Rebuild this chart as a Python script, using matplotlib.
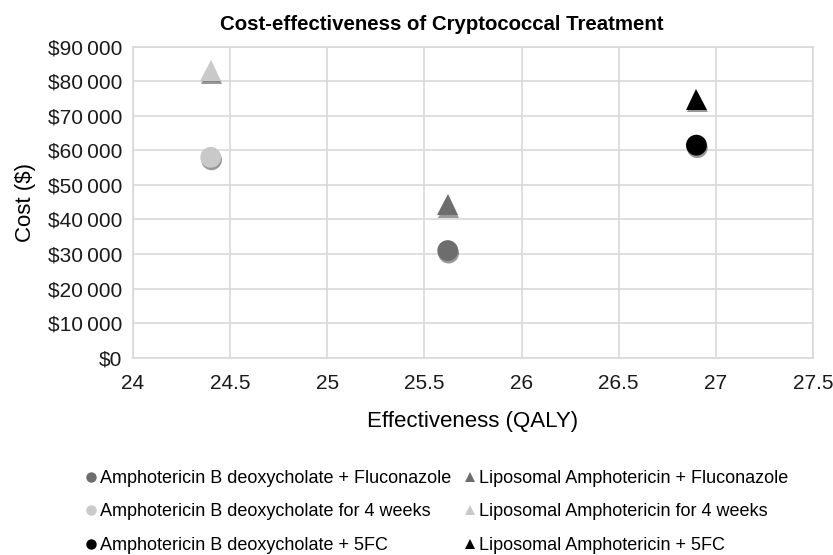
import matplotlib
matplotlib.use("Agg")
import matplotlib.pyplot as plt
import matplotlib.patheffects as pe
from matplotlib.ticker import FuncFormatter

plt.rcParams['font.family'] = ['Liberation Sans', 'DejaVu Sans']

# treatments
labels = [
    "Amphotericin B deoxycholate + Fluconazole",
    "Amphotericin B deoxycholate for 4 weeks",
    "Amphotericin B deoxycholate + 5FC",
    "Liposomal Amphotericin + Fluconazole",
    "Liposomal Amphotericin for 4 weeks",
    "Liposomal Amphotericin + 5FC",
]
qaly = [25.62, 24.40, 26.90, 25.62, 24.40, 26.90]
cost = [31000, 58000, 61500, 44300, 83000, 74800]
markers = ["o", "o", "o", "^", "^", "^"]
colors = ["#6d6d6d", "#c9c9c9", "#000000", "#6d6d6d", "#c9c9c9", "#000000"]

xticks = [24, 24.5, 25, 25.5, 26, 26.5, 27, 27.5]
yticks = list(range(0, 90001, 10000))

fig = plt.figure(figsize=(8.33, 5.55), dpi=100)
ax = fig.add_axes([133 / 833, 1 - 357.7 / 555, 680 / 833, 311 / 555])

grid_c = "#d9d9d9"
shadow = [pe.SimplePatchShadow(offset=(0.6, -1.8), shadow_rgbFace="#000000", alpha=0.4), pe.Normal()]

for x, y, m, c, lab in zip(qaly, cost, markers, colors, labels):
    ax.plot([x], [y], linestyle="none", marker=m, markersize=15, color=c,
            markeredgewidth=0, path_effects=shadow, zorder=3)
    # legend proxy
    ax.plot([], [], linestyle="none", marker=m, markersize=7.5, color=c,
            markeredgewidth=0, label=lab)

ax.set_xlim(24, 27.5)
ax.set_ylim(0, 90000)
ax.set_xticks(xticks)
ax.set_yticks(yticks)
ax.xaxis.set_major_formatter(FuncFormatter(lambda v, p: f"{v:g}"))
ax.yaxis.set_major_formatter(
    FuncFormatter(lambda v, p: "$" + f"{int(v):,}".replace(",", "\u2009")))
ax.grid(True, color=grid_c, linewidth=1.2)
ax.set_axisbelow(True)
for s in ax.spines.values():
    s.set_color(grid_c)
    s.set_linewidth(1.2)
ax.tick_params(length=0, labelsize=15, colors="#1a1a1a")
ax.tick_params(axis="x", pad=12)
ax.tick_params(axis="y", pad=8)

ax.set_xlabel("Effectiveness (QALY)", fontsize=16, labelpad=13)
ax.set_ylabel("Cost ($)", fontsize=16, labelpad=8)

fig.text(442 / 833, 1 - 24 / 555, "Cost-effectiveness of Cryptococcal Treatment",
         ha="center", va="center", fontsize=14.7, fontweight="bold")

fig.legend(loc="center left", bbox_to_anchor=(86 / 833, 1 - 512 / 555), ncol=2,
           frameon=False, fontsize=13, handlelength=0.6, handletextpad=0.2,
           columnspacing=0.7, labelspacing=0.92, borderaxespad=0, borderpad=0)

fig.savefig("out.png", dpi=100)
